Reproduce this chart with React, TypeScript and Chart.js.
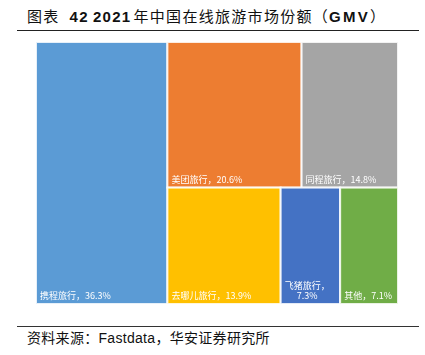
import React, { useEffect, useRef } from "react";
import { Chart, registerables } from "chart.js";

Chart.register(...registerables);

const categories = ["携程旅行", "美团旅行", "同程旅行", "去哪儿旅行", "飞猪旅行", "其他"];
const shares = [36.3, 20.6, 14.8, 13.9, 7.3, 7.1];
const colors = ["#5B9BD5", "#ED7D31", "#A5A5A5", "#FFC000", "#4472C4", "#70AD47"];

type R = { x: number; y: number; w: number; h: number };

function worst(row: number[], s: number) {
  const sum = row.reduce((a, b) => a + b, 0);
  const mx = Math.max(...row);
  const mn = Math.min(...row);
  return Math.max((s * s * mx) / (sum * sum), (sum * sum) / (s * s * mn));
}

function squarify(vals: number[], x0: number, y0: number, w0: number, h0: number): R[] {
  const total = vals.reduce((a, b) => a + b, 0);
  const k = (w0 * h0) / total;
  const areas = vals.map((v) => v * k);
  const rects: R[] = [];
  let x = x0, y = y0, w = w0, h = h0;
  let i = 0;
  while (i < areas.length) {
    const s = Math.min(w, h);
    const row = [areas[i]];
    let j = i + 1;
    while (j < areas.length && worst([...row, areas[j]], s) <= worst(row, s)) {
      row.push(areas[j]);
      j++;
    }
    const rs = row.reduce((a, b) => a + b, 0);
    if (w >= h) {
      const cw = rs / h;
      let cy = y;
      row.forEach((a) => {
        const rh = a / cw;
        rects.push({ x, y: cy, w: cw, h: rh });
        cy += rh;
      });
      x += cw;
      w -= cw;
    } else {
      const rh = rs / w;
      let cx = x;
      row.forEach((a) => {
        const rw = a / rh;
        rects.push({ x: cx, y, w: rw, h: rh });
        cx += rw;
      });
      y += rh;
      h -= rh;
    }
    i = j;
  }
  return rects;
}

const treemapPlugin = {
  id: "treemapDraw",
  afterDatasetsDraw(chart: any) {
    const { ctx, chartArea, scales } = chart;
    const W = chartArea.right - chartArea.left;
    const H = chartArea.bottom - chartArea.top;
    const rects = squarify(shares, 0, 0, W, H);
    const xs = scales.x;
    const ys = scales.y;
    ctx.save();
    rects.forEach((r, i) => {
      const px0 = xs.getPixelForValue((r.x / W) * 100);
      const px1 = xs.getPixelForValue(((r.x + r.w) / W) * 100);
      const py0 = ys.getPixelForValue((r.y / H) * 100);
      const py1 = ys.getPixelForValue(((r.y + r.h) / H) * 100);
      ctx.fillStyle = colors[i];
      ctx.fillRect(px0, py0, px1 - px0, py1 - py0);
      ctx.strokeStyle = "rgba(255,255,255,0.85)";
      ctx.lineWidth = 2;
      ctx.strokeRect(px0, py0, px1 - px0, py1 - py0);

      ctx.fillStyle = "#ffffff";
      ctx.font = '9px "Noto Sans CJK SC"';
      ctx.textBaseline = "alphabetic";
      const full = `${categories[i]}，${shares[i]}%`;
      const tw = ctx.measureText(full).width;
      const left = px0 + 4;
      const bottom = py1 - 5;
      if (tw + 8 <= px1 - px0) {
        ctx.textAlign = "left";
        ctx.fillText(full, left, bottom);
      } else {
        const l1 = `${categories[i]}，`;
        const l2 = `${shares[i]}%`;
        const w1 = ctx.measureText(l1).width;
        const w2 = ctx.measureText(l2).width;
        const bw = Math.max(w1, w2);
        ctx.textAlign = "center";
        ctx.fillText(l1, left + bw / 2, bottom - 10);
        ctx.fillText(l2, left + bw / 2, bottom);
      }
    });
    ctx.restore();
  },
};

export default function App() {
  const ref = useRef<HTMLCanvasElement | null>(null);
  useEffect(() => {
    if (!ref.current) return;
    const chart = new Chart(ref.current, {
      type: "scatter",
      data: { datasets: [{ data: [], pointRadius: 0 }] },
      options: {
        animation: false,
        responsive: false,
        maintainAspectRatio: false,
        layout: { padding: 0 },
        plugins: { legend: { display: false }, tooltip: { enabled: false }, title: { display: false } },
        scales: {
          x: { type: "linear", min: 0, max: 100, display: false },
          y: { type: "linear", min: 0, max: 100, reverse: true, display: false },
        },
      },
      plugins: [treemapPlugin],
    });
    return () => chart.destroy();
  }, []);

  const cjk: React.CSSProperties = { fontFamily: '"Noto Sans CJK SC"', letterSpacing: "1.3px" };
  const lat: React.CSSProperties = { fontFamily: '"Liberation Sans", Arial', fontWeight: 700, letterSpacing: "1.3px", display: "inline-block" };

  return (
    <div style={{ position: "absolute", left: 0, top: 0, width: 425, height: 355, background: "#fff", overflow: "hidden" }}>
      <div
        style={{
          position: "absolute",
          left: 27,
          top: 7,
          fontSize: 15,
          lineHeight: "18px",
          whiteSpace: "nowrap",
          color: "#111",
        }}
      >
        <span style={cjk}>图表</span>
        <span style={{ ...lat, marginLeft: 10 }}>42</span>
        <span style={{ ...lat, marginLeft: 4 }}>2021</span>
        <span style={{ ...cjk, marginLeft: 2 }}>年中国在线旅游市场份额（</span>
        <span style={{ ...lat, letterSpacing: "2.2px" }}>GMV</span>
        <span style={cjk}>）</span>
      </div>
      <div style={{ position: "absolute", left: 17, top: 29.5, width: 402, height: 1.5, background: "#222" }} />
      <canvas
        ref={ref}
        width={362}
        height={262}
        style={{ position: "absolute", left: 36, top: 42, width: 362, height: 262 }}
      />
      <div style={{ position: "absolute", left: 17, top: 325.5, width: 402, height: 1.2, background: "#333" }} />
      <div
        style={{
          position: "absolute",
          left: 27,
          top: 327.5,
          fontSize: 14,
          lineHeight: "18px",
          whiteSpace: "nowrap",
          color: "#111",
          letterSpacing: "0.3px",
          fontFamily: '"Liberation Sans", "Noto Sans CJK SC"',
        }}
      >
        <span style={{ fontFamily: '"Noto Sans CJK SC"' }}>资料来源：</span>
        <span>Fastdata</span>
        <span style={{ fontFamily: '"Noto Sans CJK SC"' }}>，华安证券研究所</span>
      </div>
    </div>
  );
}
